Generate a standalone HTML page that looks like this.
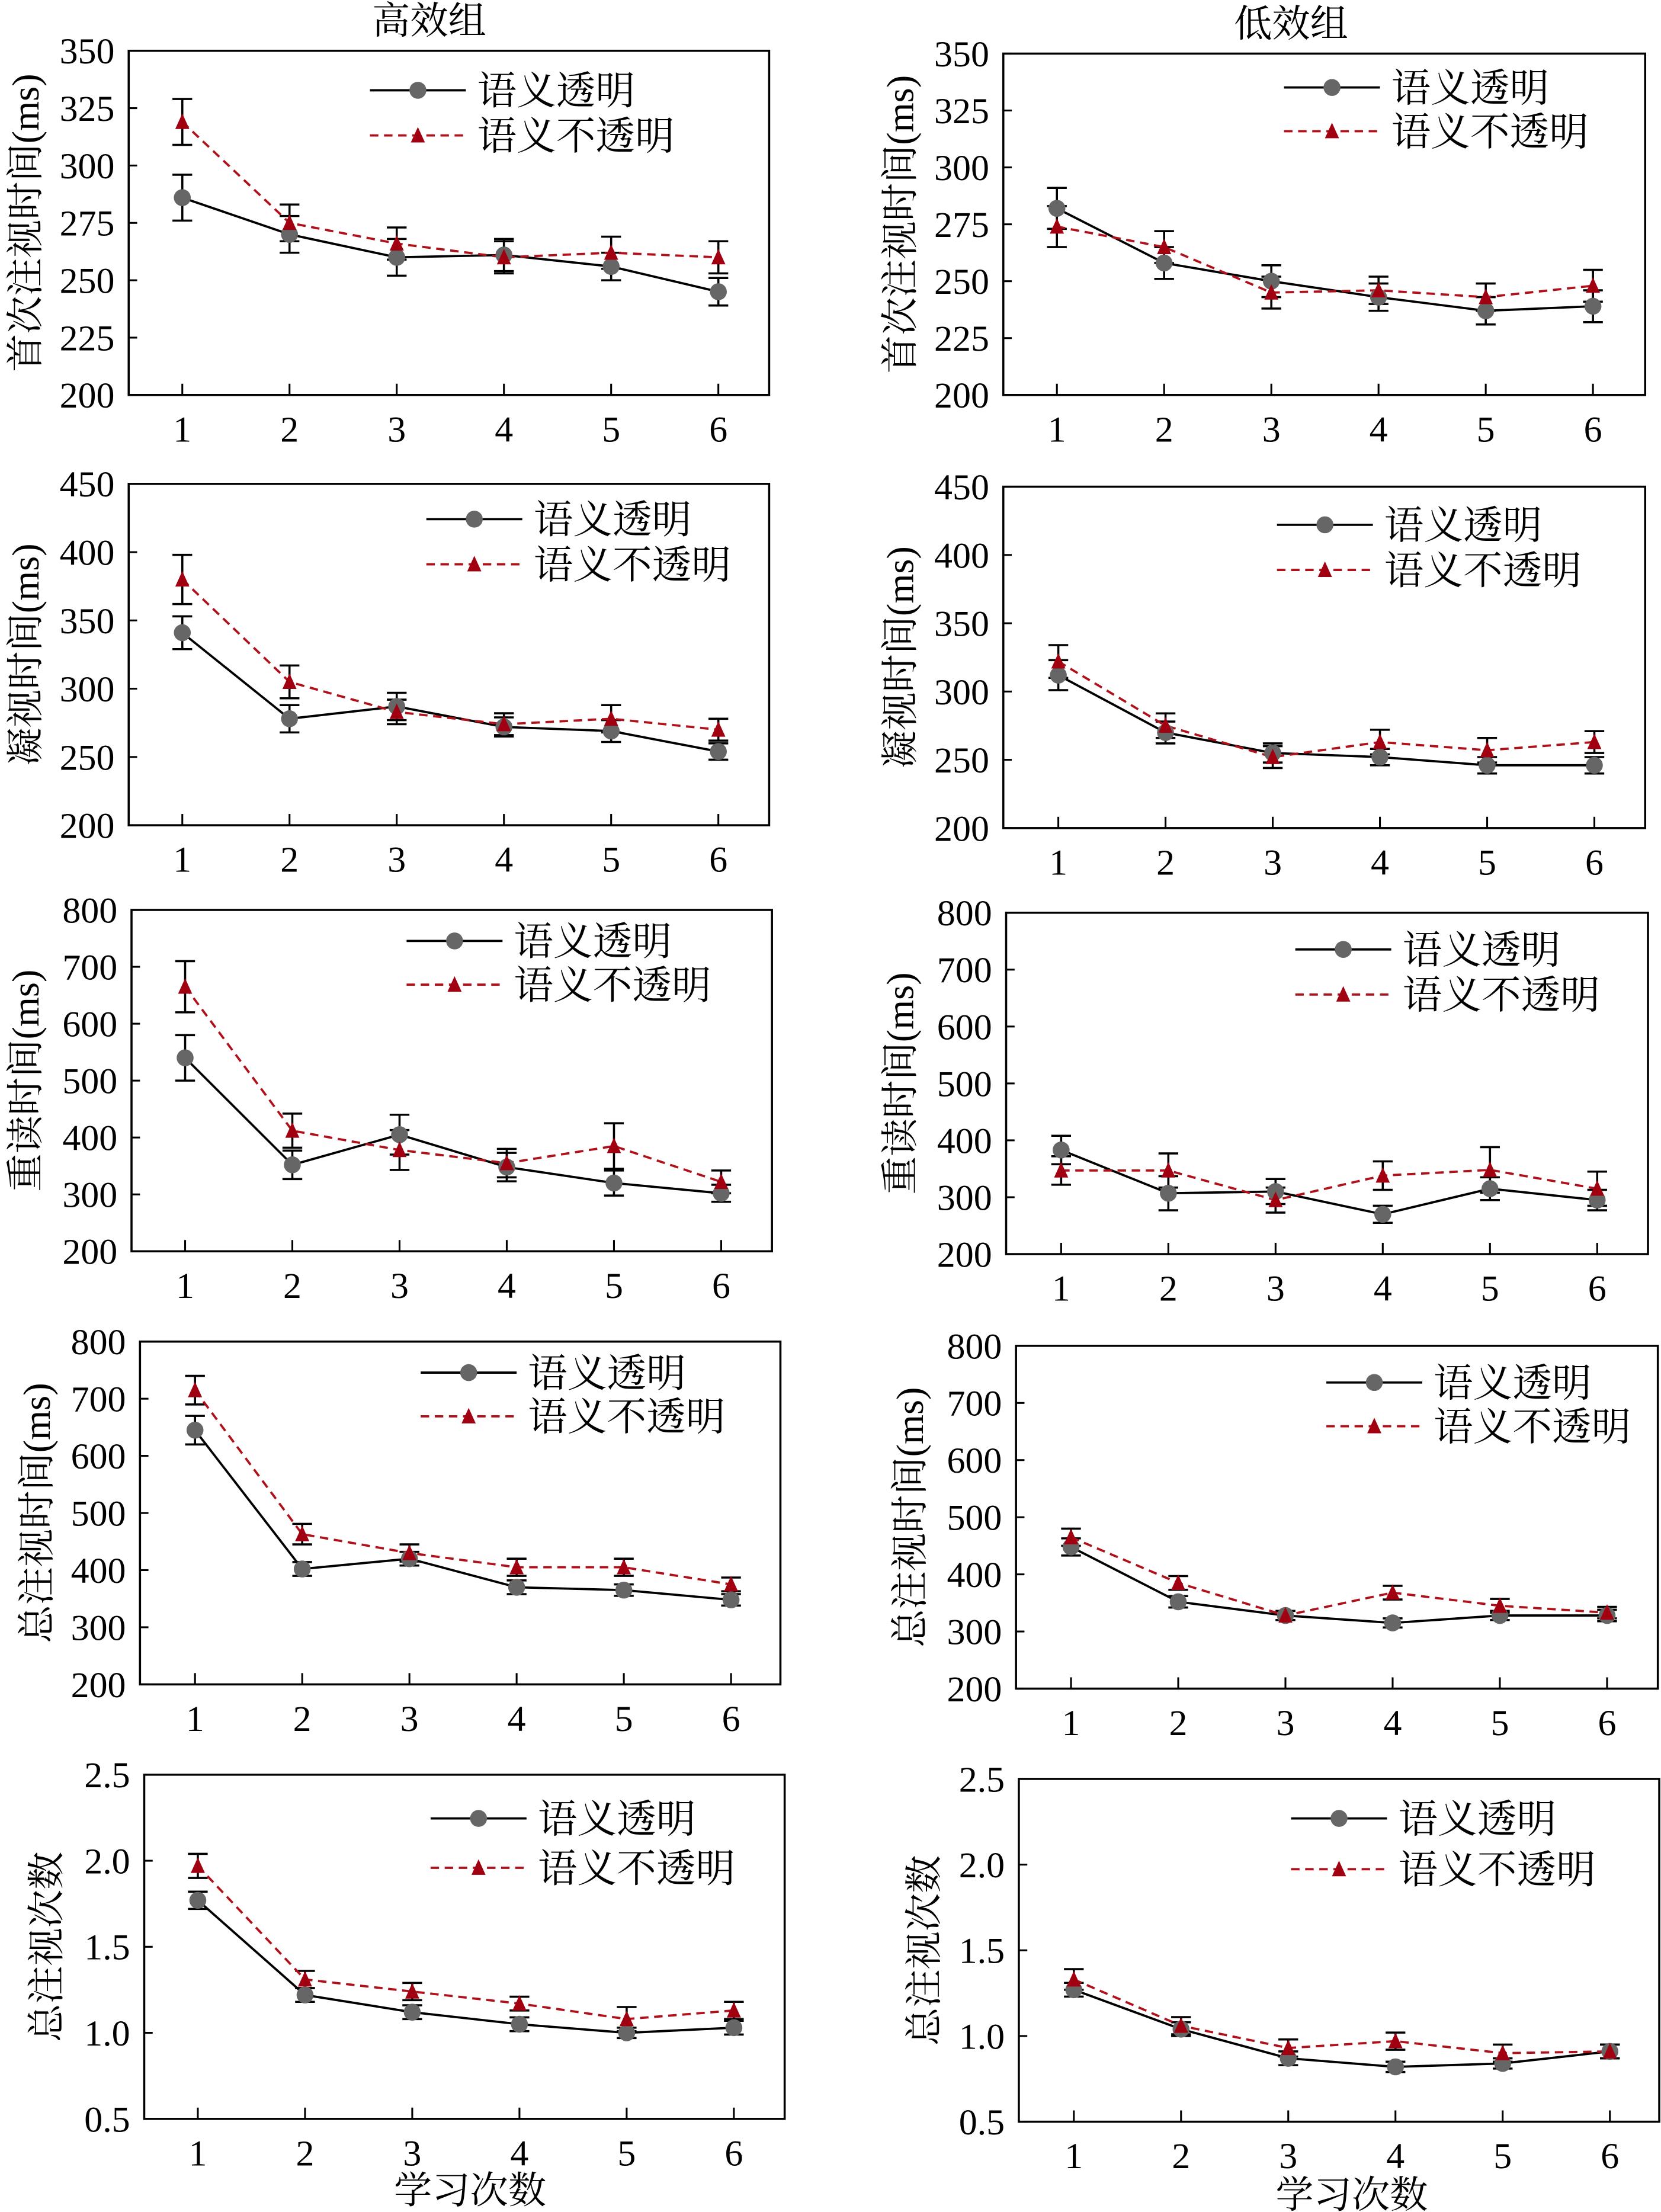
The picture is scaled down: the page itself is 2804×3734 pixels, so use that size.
<!DOCTYPE html>
<html><head><meta charset="utf-8">
<style>
html,body{margin:0;padding:0;background:#fff;}
svg{display:block;}
text{font-family:"Liberation Serif","Noto Serif CJK SC","Noto Sans CJK SC",serif;fill:#000;}
</style></head>
<body>
<svg id="s" xmlns="http://www.w3.org/2000/svg" width="2804" height="3734" viewBox="0 0 1177 1568">
<rect width="1177" height="1568" fill="#fff"/>
<text x="304" y="24" font-size="27" text-anchor="middle">高效组</text>
<text x="915" y="26" font-size="27" text-anchor="middle">低效组</text>
<text x="333" y="1562" font-size="27" text-anchor="middle">学习次数</text>
<text x="958" y="1565" font-size="27" text-anchor="middle">学习次数</text>
</svg>
<script>
var S=document.getElementById('s'),NS='http://www.w3.org/2000/svg';
function el(t,a,txt){var e=document.createElementNS(NS,t);for(var k in a)e.setAttribute(k,a[k]);if(txt!==undefined)e.textContent=txt;S.appendChild(e);return e;}
var P=[
{x0:91,x1:545,y0:36,y1:280,mn:200,mx:350,st:25,dec:0,xs:129,lab:"首次注视时间(ms)",lx:18,
 T:[286,270,260,261,256,245],TE:[10,8,8,7,6,6],O:[319,275,266,260,262,260],OE:[10,8,7,7,7,7],lg:[262,64,96]},
{x0:711,x1:1166,y0:38,y1:280,mn:200,mx:350,st:25,dec:0,xs:749,lab:"首次注视时间(ms)",lx:638,
 T:[282,258,250,243,237,239],TE:[9,7,7,6,6,7],O:[274,265,245,246,243,248],OE:[9,7,7,6,6,7],lg:[910,62,93]},
{x0:91,x1:545,y0:343,y1:585,mn:200,mx:450,st:50,dec:0,xs:129,lab:"凝视时间(ms)",lx:18,
 T:[341,278,287,272,269,254],TE:[12,10,10,7,8,6],O:[380,305,283,274,278,270],OE:[18,12,9,8,10,8],lg:[302,368,400]},
{x0:711,x1:1166,y0:345,y1:587,mn:200,mx:450,st:50,dec:0,xs:750,lab:"凝视时间(ms)",lx:638,
 T:[312,270,255,252,246,246],TE:[11,8,7,6,6,6],O:[322,275,252,263,257,263],OE:[12,9,8,9,9,8],lg:[905,372,404]},
{x0:93,x1:547,y0:645,y1:887,mn:200,mx:800,st:100,dec:0,xs:131,lab:"重读时间(ms)",lx:18,
 T:[540,352,405,348,320,302],TE:[40,25,35,25,22,15],O:[665,412,378,355,385,322],OE:[45,30,35,25,40,20],lg:[288,667,698]},
{x0:713,x1:1168,y0:647,y1:889,mn:200,mx:800,st:100,dec:0,xs:752,lab:"重读时间(ms)",lx:638,
 T:[383,307,310,270,315,295],TE:[25,30,22,15,20,18],O:[347,347,295,338,348,315],OE:[25,30,22,25,40,30],lg:[918,673,705]},
{x0:99,x1:553,y0:951,y1:1194,mn:200,mx:800,st:100,dec:0,xs:138,lab:"总注视时间(ms)",lx:26,
 T:[645,402,420,370,365,348],TE:[25,12,12,12,10,10],O:[715,463,430,405,405,375],OE:[25,18,15,15,15,12],lg:[298,973,1004]},
{x0:720,x1:1175,y0:954,y1:1197,mn:200,mx:800,st:100,dec:0,xs:759,lab:"总注视时间(ms)",lx:645,
 T:[448,352,328,315,328,328],TE:[15,10,8,8,8,10],O:[465,385,328,368,345,333],OE:[15,12,8,12,12,10],lg:[940,980,1011]},
{x0:102,x1:556,y0:1258,y1:1502,mn:0.5,mx:2.5,st:0.5,dec:1,xs:140,lab:"总注视次数",lx:33,
 T:[1.77,1.22,1.12,1.05,1.00,1.03],TE:[.05,.04,.04,.04,.03,.04],O:[1.97,1.31,1.24,1.17,1.08,1.13],OE:[.07,.05,.05,.04,.07,.05],lg:[305,1289,1324]},
{x0:722,x1:1176,y0:1261,y1:1504,mn:0.5,mx:2.5,st:0.5,dec:1,xs:761,lab:"总注视次数",lx:655,
 T:[1.27,1.04,0.87,0.82,0.84,0.91],TE:[.04,.04,.04,.03,.03,.04],O:[1.33,1.06,0.93,0.97,0.90,0.91],OE:[.06,.05,.05,.05,.05,.04],lg:[915,1289,1325]}
];
P.forEach(function(p){
 var Y=function(v){return p.y1-(v-p.mn)/(p.mx-p.mn)*(p.y1-p.y0);};
 var X=function(i){return p.xs+i*76;};
 el('rect',{x:p.x0,y:p.y0,width:p.x1-p.x0,height:p.y1-p.y0,fill:'none',stroke:'#000','stroke-width':1.5});
 for(var v=p.mn;v<=p.mx+1e-9;v+=p.st){var y=Y(v);
  el('line',{x1:p.x0,x2:p.x0+6,y1:y,y2:y,stroke:'#000','stroke-width':1.3});
  el('text',{x:p.x0-10,y:y+9,'font-size':26,'text-anchor':'end'},v.toFixed(p.dec));}
 for(var i=0;i<6;i++){var x=X(i);
  el('line',{x1:x,x2:x,y1:p.y1,y2:p.y1-8,stroke:'#000','stroke-width':1.3});
  el('text',{x:x,y:p.y1+33,'font-size':26,'text-anchor':'middle'},String(i+1));}
 var cy=(p.y0+p.y1)/2;
 el('text',{x:p.lx,y:cy,'font-size':27,'text-anchor':'middle',transform:'rotate(-90 '+p.lx+' '+cy+') translate(0 9)'},p.lab);
 function bars(D,E){for(var i=0;i<6;i++){var x=X(i),a=Y(D[i]+E[i]),b=Y(D[i]-E[i]);
  el('line',{x1:x,x2:x,y1:a,y2:b,stroke:'#000','stroke-width':1.5});
  el('line',{x1:x-7,x2:x+7,y1:a,y2:a,stroke:'#000','stroke-width':1.5});
  el('line',{x1:x-7,x2:x+7,y1:b,y2:b,stroke:'#000','stroke-width':1.5});}}
 bars(p.T,p.TE);bars(p.O,p.OE);
 var pt=function(D){return D.map(function(v,i){return X(i)+','+Y(v);}).join(' ');};
 el('polyline',{points:pt(p.T),fill:'none',stroke:'#000','stroke-width':1.6});
 el('polyline',{points:pt(p.O),fill:'none',stroke:'#b0101a','stroke-width':1.6,'stroke-dasharray':'6,4'});
 function tri(x,y){el('polygon',{points:(x-5)+','+(y+5)+' '+(x+5)+','+(y+5)+' '+x+','+(y-6),fill:'#a00010'});}
 for(var i=0;i<6;i++){el('circle',{cx:X(i),cy:Y(p.T[i]),r:6,fill:'#666'});tri(X(i),Y(p.O[i]));}
 var lx=p.lg[0],l1=p.lg[1],l2=p.lg[2];
 el('line',{x1:lx,x2:lx+68,y1:l1,y2:l1,stroke:'#000','stroke-width':1.6});
 el('circle',{cx:lx+34,cy:l1,r:6,fill:'#666'});
 el('line',{x1:lx,x2:lx+68,y1:l2,y2:l2,stroke:'#b0101a','stroke-width':1.6,'stroke-dasharray':'6,4'});
 tri(lx+34,l2);
 el('text',{x:lx+76,y:l1+10,'font-size':28},'语义透明');
 el('text',{x:lx+76,y:l2+10,'font-size':28},'语义不透明');
});
</script>
</body></html>
